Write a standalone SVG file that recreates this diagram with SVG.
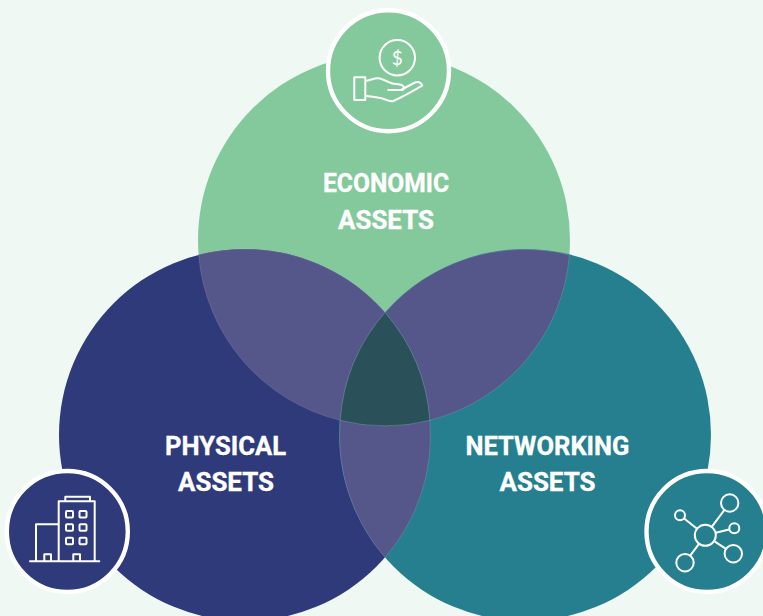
<svg xmlns="http://www.w3.org/2000/svg" width="763" height="616" viewBox="0 0 763 616">
<style>
.lap{fill:#55568a;stroke:#ffffff;stroke-opacity:.22;stroke-width:.6}
.lbl{font-family:"Roboto","Liberation Sans",sans-serif;font-weight:700;font-size:26px;fill:#fff;stroke:#fff;stroke-width:.35;text-anchor:middle}
.badge{stroke:#fff;stroke-width:4.400}
.ic{fill:none;stroke:#fff;stroke-width:2;stroke-linejoin:round;stroke-linecap:round}
</style>
<rect width="763" height="616" fill="#f0f8f4"/>
<g id="economic-circle"><circle cx="384" cy="240" r="186" fill="#84c99b"/></g>
<g id="physical-circle"><circle cx="245" cy="435" r="186" fill="#2f3a7a"/></g>
<g id="networking-circle"><circle cx="525" cy="435" r="186" fill="#257f8f"/></g>
<g id="overlaps">
<path class="lap" d="M198.600 254.900A186 186 0 0 1 385 312.500A186 186 0 0 0 340.200 420.300A186 186 0 0 1 198.600 254.900Z"/>
<path class="lap" d="M569.400 254.900A186 186 0 0 0 385 312.500A186 186 0 0 1 429.800 420.300A186 186 0 0 0 569.400 254.900Z"/>
<path class="lap" d="M340.200 420.300A186 186 0 0 0 429.800 420.300A186 186 0 0 1 385 557.500A186 186 0 0 1 340.200 420.300Z"/>
<path class="lap" style="fill:#2a5059" d="M385 312.500A186 186 0 0 1 429.800 420.300A186 186 0 0 1 340.200 420.300A186 186 0 0 1 385 312.500Z"/>
</g>
<g id="economic-label"><text class="lbl" x="386" y="192" textLength="126" lengthAdjust="spacingAndGlyphs">ECONOMIC</text><text class="lbl" x="386" y="229" textLength="96" lengthAdjust="spacingAndGlyphs">ASSETS</text></g>
<g id="physical-label"><text class="lbl" x="225.500" y="454.500" textLength="121" lengthAdjust="spacingAndGlyphs">PHYSICAL</text><text class="lbl" x="226" y="491" textLength="96" lengthAdjust="spacingAndGlyphs">ASSETS</text></g>
<g id="networking-label"><text class="lbl" x="547.500" y="454.500" textLength="164" lengthAdjust="spacingAndGlyphs">NETWORKING</text><text class="lbl" x="547.500" y="491" textLength="96" lengthAdjust="spacingAndGlyphs">ASSETS</text></g>
<g id="economic-badge">
<circle class="badge" cx="388.500" cy="70.700" r="60.500" fill="#84c99b"/>
<circle class="ic" cx="397.300" cy="57.700" r="17.700"/>
<text x="397.300" y="64.500" font-family="Lato,'Liberation Sans',sans-serif" font-weight="400" font-size="19" fill="#fff" text-anchor="middle">$</text>
<rect class="ic" x="354.300" y="77.300" width="11" height="22.700"/>
<path class="ic" d="M366.700 80.700C372 79.500 375 78 378.300 78.300C383 78.800 387 82 391.700 83.300C395 84.200 399 84 401.700 85C404.500 86 404.800 89.500 401.700 90L388.300 90M401.700 89.500L414 83C417 81.500 420 80.800 422.300 85.700C412 91.500 403 97 393.300 101C389 102 385 99 381.700 98.300C376 97.200 371 96.500 366.700 96"/>
</g>
<g id="physical-badge">
<circle class="badge" cx="67.300" cy="531.500" r="60.500" fill="#2f3a7a"/>
<path class="ic" d="M30 561.300H99.300M36 561.300V524.300H58.700M58.700 561.300V501.300H94.700V561.300M65.300 501.300V496.700H90V501.300M44.300 561.300V554.300H51V561.300M73.300 561.300V554.300H80V561.300"/>
<g class="ic">
<rect x="66" y="511" width="7" height="6.500" rx="1"/><rect x="79.500" y="511" width="7" height="6.500" rx="1"/>
<rect x="66" y="524.300" width="7" height="6.500" rx="1"/><rect x="79.500" y="524.300" width="7" height="6.500" rx="1"/>
<rect x="66" y="537.700" width="7" height="6.500" rx="1"/><rect x="79.500" y="537.700" width="7" height="6.500" rx="1"/>
</g>
</g>
<g id="networking-badge">
<circle class="badge" cx="707" cy="531.500" r="60.500" fill="#257f8f"/>
<path class="ic" d="M705.300 535.300L729.700 503M705.300 535.300L680 515.300M705.300 535.300L734.300 528.300M705.300 535.300L733.300 553.700M705.300 535.300L685 562.700"/>
<g class="ic" style="fill:#257f8f">
<circle cx="705.300" cy="535.300" r="10.500"/><circle cx="729.700" cy="503" r="8.700"/><circle cx="680" cy="515.300" r="5"/>
<circle cx="734.300" cy="528.300" r="5"/><circle cx="733.300" cy="553.700" r="8.700"/><circle cx="685" cy="562.700" r="8.700"/>
</g>
</g>
</svg>
